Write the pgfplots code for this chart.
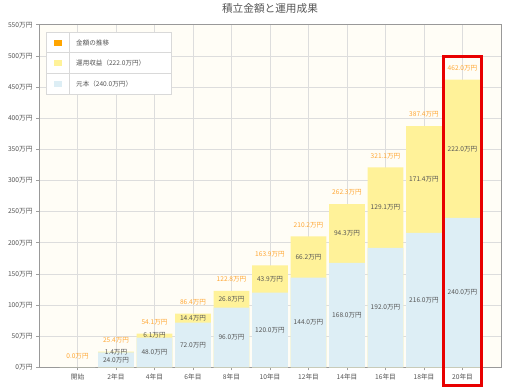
\documentclass[border=0pt]{standalone}
\usepackage{fontspec}
\setmainfont{Noto Sans CJK JP}
\usepackage{pgfplots}
\pgfplotsset{compat=1.18}
\usepackage{pgfplotstable}
\definecolor{basec}{HTML}{DDEEF5}
\definecolor{gainc}{HTML}{FFF299}
\definecolor{orangec}{HTML}{FFA733}
\definecolor{legorange}{HTML}{FFA500}
\definecolor{txt}{HTML}{555555}
\definecolor{gridc}{HTML}{DDDDDD}
\definecolor{bgc}{HTML}{FFFDF6}
\definecolor{redbox}{HTML}{E80000}

\pgfplotstableread{
x base gain total
0 0 0 0
1 24.0 1.4 25.4
2 48.0 6.1 54.1
3 72.0 14.4 86.4
4 96.0 26.8 122.8
5 120.0 43.9 163.9
6 144.0 66.2 210.2
7 168.0 94.3 262.3
8 192.0 129.1 321.1
9 216.0 171.4 387.4
10 240.0 222.0 462.0
}\datatable

\begin{document}
\begin{tikzpicture}
\path (0,0) rectangle (512bp,383bp);
\begin{axis}[
  name=ax, at={(39bp,20.3bp)}, anchor=south west,
  scale only axis, width=462bp, height=342.7bp,
  xmin=-1, xmax=11, ymin=0, ymax=550,
  xtick={0,...,10},
  xticklabels={開始,2年目,4年目,6年目,8年目,10年目,12年目,14年目,16年目,18年目,20年目},
  ytick={0,50,...,550},
  yticklabel={\pgfmathprintnumber{\tick}万円},
  xtick pos=bottom, ytick pos=left,
  grid=major, major grid style={gridc, line width=0.7bp},
  axis background/.style={fill=bgc},
  axis line style={draw=gray!80, line width=0.9bp},
  tick align=outside, major tick length=3bp, tick style={gray!75, line width=0.7bp},
  ticklabel style={font=\fontsize{6.7}{7}\selectfont, text=txt},
  clip=false,
  /pgf/number format/assume math mode=true,
  title={積立金額と運用成果},
  title style={at={(0.5,1)}, anchor=center, yshift=10.5bp, font=\fontsize{10.7}{12}\selectfont, text=txt},
]
\addplot[ybar, bar width=0.93, bar shift=0pt, fill=gainc, draw=none] table[x=x, y=total] {\datatable};
\addplot[ybar, bar width=0.93, bar shift=0pt, fill=basec, draw=none] table[x=x, y=base] {\datatable};
% segment labels
\addplot[draw=none, mark=none, skip coords between index={0}{1},
  point meta=explicit,
  nodes near coords={\pgfmathprintnumber[fixed,fixed zerofill,precision=1]{\pgfplotspointmeta}万円},
  every node near coord/.style={anchor=center, inner sep=0pt, font=\fontsize{6.6}{7}\selectfont, text=txt}]
  table[x=x, y expr=\thisrow{base}/2, meta=base] {\datatable};
\addplot[draw=none, mark=none, skip coords between index={0}{1},
  point meta=explicit,
  nodes near coords={\pgfmathprintnumber[fixed,fixed zerofill,precision=1]{\pgfplotspointmeta}万円},
  every node near coord/.style={anchor=center, inner sep=0pt, font=\fontsize{6.6}{7}\selectfont, text=txt}]
  table[x=x, y expr=\thisrow{base}+\thisrow{gain}/2, meta=gain] {\datatable};
% totals
\addplot[draw=none, mark=none,
  point meta=explicit,
  nodes near coords={\pgfmathprintnumber[fixed,fixed zerofill,precision=1]{\pgfplotspointmeta}万円},
  every node near coord/.style={anchor=center, inner sep=0pt, yshift=11.5bp, font=\fontsize{6.6}{7}\selectfont, text=orangec}]
  table[x=x, y=total, meta=total] {\datatable};
\draw[redbox, line width=3bp] (axis cs:9.506,-29.4) rectangle (axis cs:10.494,498.6);
\end{axis}
% legend
\draw[gray!30, fill=white, line width=0.6bp] (46bp,293bp) rectangle (171bp,355bp);
\draw[gray!30, line width=0.6bp] (69bp,293bp) -- (69bp,355bp);
\draw[gray!30, line width=0.6bp] (46bp,335bp) -- (171bp,335bp);
\draw[gray!30, line width=0.6bp] (46bp,314bp) -- (171bp,314bp);
\fill[legorange] (53.5bp,342bp) rectangle (61.5bp,348bp);
\fill[gainc] (53.5bp,321.5bp) rectangle (61.5bp,327.5bp);
\fill[basec] (53.5bp,301bp) rectangle (61.5bp,307bp);
\node[anchor=west, inner sep=0pt, font=\fontsize{6.6}{7}\selectfont, text=txt] at (76bp,345bp) {金額の推移};
\node[anchor=west, inner sep=0pt, font=\fontsize{6.6}{7}\selectfont, text=txt] at (76bp,324.5bp) {運用収益（222.0万円）};
\node[anchor=west, inner sep=0pt, font=\fontsize{6.6}{7}\selectfont, text=txt] at (76bp,304bp) {元本（240.0万円）};
\end{tikzpicture}
\end{document}
